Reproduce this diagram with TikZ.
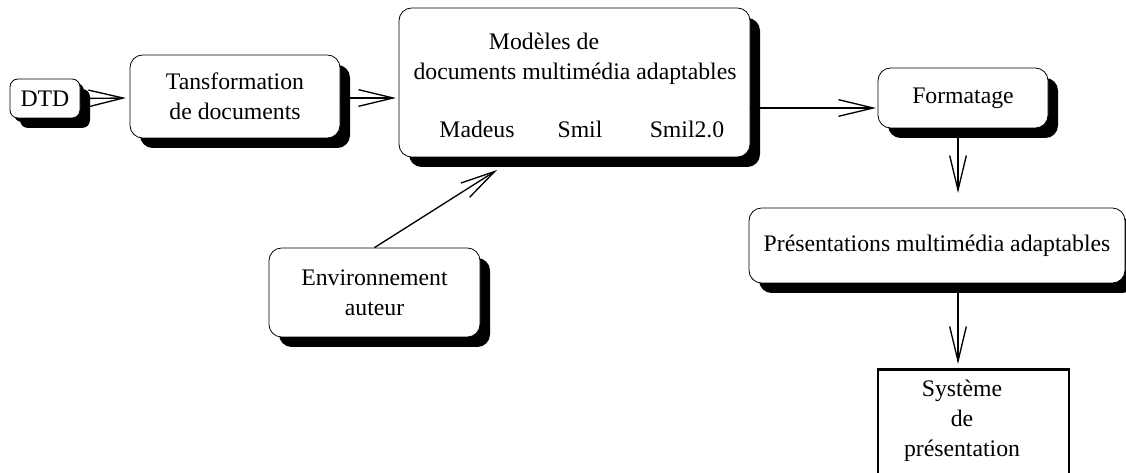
\documentclass[tikz,border=0pt]{standalone}
\usepackage{fontspec}
\setmainfont{Liberation Serif}
\usetikzlibrary{arrows.meta,shadows}

\tikzset{
  box/.style={draw,fill=white,line width=0.6pt,rounded corners=9.5pt,inner sep=0pt,
    align=center,font=\fontsize{17.8}{22.5}\selectfont,
    drop shadow={shadow xshift=7.5pt,shadow yshift=-7.5pt,opacity=1,fill=black}},
  txt/.style={inner sep=0pt,anchor=base,font=\fontsize{17.8}{22.5}\selectfont},
  arr/.style={line width=1pt,-{Straight Barb[length=26pt,width=12.5pt,line width=1pt]}}
}

\begin{document}
\begin{tikzpicture}[x=0.75pt,y=-0.75pt]
\clip (0,0) rectangle (1126,473);
\fill[white] (0,0) rectangle (1126,473);

% boxes
\node[box,rounded corners=6pt,minimum width=52.5pt,minimum height=29.25pt,
  drop shadow={shadow xshift=3pt,shadow yshift=-3pt,opacity=1,fill=black}] (dtd) at (45,98.5) {DTD};
\node[box,minimum width=157.5pt,minimum height=62.25pt] (tans) at (235,96.5) {Tansformation\\de documents};
\node[box,minimum width=263.25pt,minimum height=111.75pt] (mod) at (574.5,82.5) {};
\node[box,minimum width=127.5pt,minimum height=45pt] (form) at (963,98) {Formatage};
\node[box,minimum width=282pt,minimum height=56.25pt] (pres) at (937,245.5) {Présentations multimédia adaptables};
\node[box,minimum width=158.25pt,minimum height=66.75pt] (env) at (374.5,292.5) {Environnement\\auteur};
\node[draw,line width=2.2pt,fill=white,inner sep=0pt,minimum width=143.25pt,minimum height=120pt,
  anchor=north] (sys) at (973.5,368) {};
\node[txt,align=center,anchor=north] (systxt) at (962,380) {Système\\de\\présentation};

% text inside the model box
\node[txt] (modl1) at (544,50) {Modèles de};
\node[txt] (modl2) at (575,80) {documents multimédia adaptables};
\node[txt] (madeus) at (477,138) {Madeus};
\node[txt] (smil) at (580,138) {Smil};
\node[txt] (smildeux) at (687,138) {Smil2.0};

% arrow ends
\coordinate (tansin) at (126,98);
\coordinate (modin) at (396,98);
\coordinate (formin) at (876,108);
\coordinate (formout) at (958,128);
\coordinate (presin) at (958,193);
\coordinate (presout) at (958,283);
\coordinate (sysin) at (958,364);
\coordinate (modbot) at (497,170);

\draw[arr] (dtd.east) -- (tansin);
\draw[arr] (tans.east |- modin) -- (modin);
\draw[arr] (mod.east |- formin) -- (formin);
\draw[arr] (formout) -- (presin);
\draw[arr] (presout) -- (sysin);
\draw[arr] (env.north) -- (modbot);
\end{tikzpicture}
\end{document}
